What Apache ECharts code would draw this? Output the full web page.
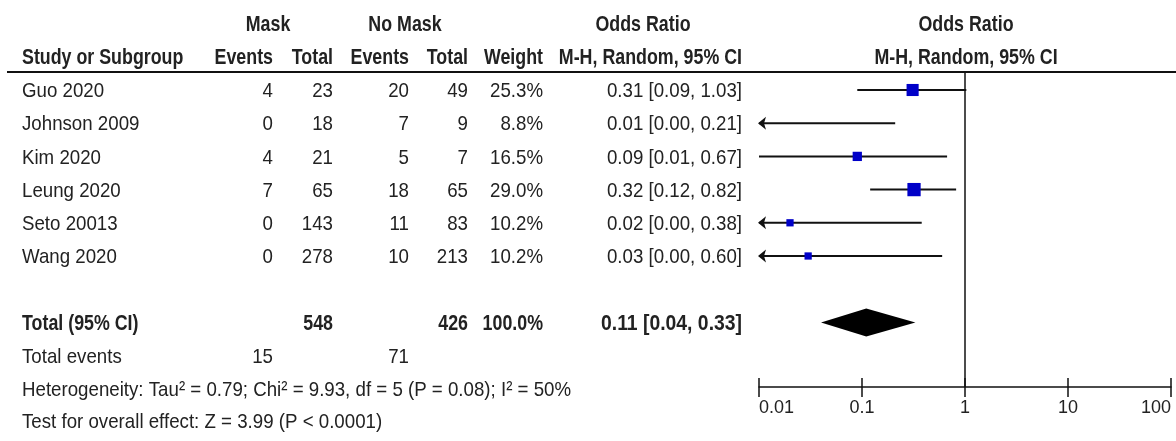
<!DOCTYPE html>
<html>
<head>
<meta charset="utf-8">
<script src="https://cdn.jsdelivr.net/npm/echarts@6/dist/echarts.min.js"></script>
<style>
  html, body { margin: 0; padding: 0; background: #fff; }
  #chart { width: 1176px; height: 441px; }
</style>
</head>
<body>
<div id="chart"></div>
<script>
// study level data
const studies = ['Guo 2020', 'Johnson 2009', 'Kim 2020', 'Leung 2020', 'Seto 20013', 'Wang 2020']
const maskEvents = [4, 0, 4, 7, 0, 0]
const maskTotal = [23, 18, 21, 65, 143, 278]
const noMaskEvents = [20, 7, 5, 18, 11, 10]
const noMaskTotal = [49, 9, 7, 65, 83, 213]
const weights = [25.3, 8.8, 16.5, 29.0, 10.2, 10.2]
const oddsRatio = [0.31, 0.01, 0.09, 0.32, 0.02, 0.03]
const ciLow = [0.09, 0.00, 0.01, 0.12, 0.00, 0.00]
const ciHigh = [1.03, 0.21, 0.67, 0.82, 0.38, 0.60]

// pooled
const totalTotals = [548, 426]
const totalWeight = 100.0
const pooled = [0.11, 0.04, 0.33] // or, low, high
const totalEvents = [15, 71]

const axisTicks = [0.01, 0.1, 1, 10, 100]
const heterogeneity = 'Heterogeneity: Tau² = 0.79; Chi² = 9.93, df = 5 (P = 0.08); I² = 50%'
const overallEffect = 'Test for overall effect: Z = 3.99 (P < 0.0001)'

// no narrow font installed, so arial-metric text gets squeezed a bit
const FONT = '"Liberation Sans", Arial, sans-serif'
const SQUEEZE_REG = 0.89
const SQUEEZE_BOLD = 0.81
const TXT = '#222'
const TOTAL_ROW = 7

const chart = echarts.init(document.getElementById('chart'))

function renderStudy (params, api) {
  const xMin = axisTicks[0]
  const xMax = axisTicks[axisTicks.length - 1]
  const or = api.value(0)
  const lo = api.value(1)
  const hi = api.value(2)
  const row = api.value(3)
  const w = api.value(4)
  const clipL = lo < xMin
  const clipR = hi > xMax
  const p1 = api.coord([clipL ? xMin : lo, row])
  const p2 = api.coord([clipR ? xMax : hi, row])
  const y = p1[1]
  const children = [{
    type: 'line',
    shape: {x1: p1[0], y1: y, x2: p2[0], y2: y},
    style: {stroke: '#111', lineWidth: 2}
  }]
  if (clipL) {
    const x = p1[0] - 1
    children.push({
      type: 'polygon',
      shape: {points: [[x, y], [x + 8, y - 6.5], [x + 6, y], [x + 8, y + 6.5]]},
      style: {fill: '#111'}
    })
  }
  if (or > xMin) {
    const c = api.coord([or, row])
    const s = 4 + 0.32 * w
    children.push({
      type: 'rect',
      shape: {x: c[0] - s / 2, y: y - s / 2, width: s, height: s},
      style: {fill: '#0000c8'}
    })
  }
  return {type: 'group', children: children}
}

function renderDiamond (params, api) {
  const row = api.value(3)
  const c = api.coord([api.value(0), row])
  const l = api.coord([api.value(1), row])
  const r = api.coord([api.value(2), row])
  const h = 14
  return {
    type: 'polygon',
    shape: {points: [[l[0], c[1]], [c[0], c[1] - h], [r[0], c[1]], [c[0], c[1] + h]]},
    style: {fill: '#000'}
  }
}

const studyData = studies.map((s, i) => [oddsRatio[i], ciLow[i], ciHigh[i], i, weights[i]])

const option = {
  animation: false,
  backgroundColor: '#fff',
  grid: {left: 759, right: 5, top: 73, bottom: 54},
  xAxis: [{
    type: 'log',
    logBase: 10,
    position: 'bottom',
    min: axisTicks[0],
    max: axisTicks[axisTicks.length - 1],
    axisLine: {onZero: false, lineStyle: {color: '#111', width: 1.5}},
    axisTick: {length: 10, lineStyle: {color: '#111', width: 1.5}},
    splitLine: {show: false},
    axisLabel: {
      color: TXT,
      fontFamily: FONT,
      fontSize: 18,
      margin: 12,
      alignMinLabel: 'left',
      alignMaxLabel: 'right',
      formatter: v => String(+v.toPrecision(2))
    }
  }, {
    // second copy of the axis only for the upward half of the ticks
    type: 'log',
    logBase: 10,
    position: 'bottom',
    min: axisTicks[0],
    max: axisTicks[axisTicks.length - 1],
    axisLine: {show: false, onZero: false},
    axisTick: {inside: true, length: 9, lineStyle: {color: '#111', width: 1.5}},
    axisLabel: {show: false},
    splitLine: {show: false}
  }],
  yAxis: {
    type: 'value',
    inverse: true,
    min: -0.512,
    max: 8.946,
    show: false
  },
  series: [{
    type: 'custom',
    renderItem: renderStudy,
    encode: {x: [0, 1, 2], y: 3},
    data: studyData,
    clip: false,
    markLine: {
      silent: true,
      symbol: 'none',
      label: {show: false},
      lineStyle: {color: '#111', width: 1.5, type: 'solid'},
      data: [{xAxis: 1}]
    }
  }, {
    type: 'custom',
    renderItem: renderDiamond,
    encode: {x: [0, 1, 2], y: 3},
    data: [[pooled[0], pooled[1], pooled[2], TOTAL_ROW]],
    clip: false
  }]
}
chart.setOption(option)

// table text, rows placed through the same y axis as the plot
function rowY (r) {
  return chart.convertToPixel({yAxisIndex: 0}, r) + 1.5
}
function txt (x, r, text, align, bold, squeeze) {
  return {
    type: 'text',
    x: x,
    y: rowY(r),
    scaleX: squeeze || (bold ? SQUEEZE_BOLD : SQUEEZE_REG),
    silent: true,
    style: {
      text: String(text),
      align: align,
      verticalAlign: 'middle',
      fill: TXT,
      font: (bold ? 'bold 22px ' : '21px ') + FONT
    }
  }
}
const col = {name: 22, mEv: 273, mTot: 333, nEv: 409, nTot: 468, wt: 543, orTxt: 742}
const fmtOR = (o, l, h) => o.toFixed(2) + ' [' + l.toFixed(2) + ', ' + h.toFixed(2) + ']'

const g = []
// headers
g.push(txt(268, -2, 'Mask', 'center', true))
g.push(txt(405, -2, 'No Mask', 'center', true))
g.push(txt(643, -2, 'Odds Ratio', 'center', true))
g.push(txt(966, -2, 'Odds Ratio', 'center', true))
g.push(txt(col.name, -1, 'Study or Subgroup', 'left', true))
g.push(txt(col.mEv, -1, 'Events', 'right', true))
g.push(txt(col.mTot, -1, 'Total', 'right', true))
g.push(txt(col.nEv, -1, 'Events', 'right', true))
g.push(txt(col.nTot, -1, 'Total', 'right', true))
g.push(txt(col.wt, -1, 'Weight', 'right', true))
g.push(txt(col.orTxt, -1, 'M-H, Random, 95% CI', 'right', true))
g.push(txt(966, -1, 'M-H, Random, 95% CI', 'center', true))
g.push({
  type: 'line',
  silent: true,
  shape: {x1: 7, y1: 72, x2: 1176, y2: 72},
  style: {stroke: '#111', lineWidth: 2}
})

studies.forEach((s, i) => {
  g.push(txt(col.name, i, s, 'left'))
  g.push(txt(col.mEv, i, maskEvents[i], 'right'))
  g.push(txt(col.mTot, i, maskTotal[i], 'right'))
  g.push(txt(col.nEv, i, noMaskEvents[i], 'right'))
  g.push(txt(col.nTot, i, noMaskTotal[i], 'right'))
  g.push(txt(col.wt, i, weights[i].toFixed(1) + '%', 'right'))
  g.push(txt(col.orTxt, i, fmtOR(oddsRatio[i], ciLow[i], ciHigh[i]), 'right'))
})

g.push(txt(col.name, TOTAL_ROW, 'Total (95% CI)', 'left', true))
g.push(txt(col.mTot, TOTAL_ROW, totalTotals[0], 'right', true))
g.push(txt(col.nTot, TOTAL_ROW, totalTotals[1], 'right', true))
g.push(txt(col.wt, TOTAL_ROW, totalWeight.toFixed(1) + '%', 'right', true))
g.push(txt(col.orTxt, TOTAL_ROW, fmtOR(pooled[0], pooled[1], pooled[2]), 'right', true, 0.88))

g.push(txt(col.name, TOTAL_ROW + 1, 'Total events', 'left'))
g.push(txt(col.mEv, TOTAL_ROW + 1, totalEvents[0], 'right'))
g.push(txt(col.nEv, TOTAL_ROW + 1, totalEvents[1], 'right'))
g.push(txt(col.name, TOTAL_ROW + 2, heterogeneity, 'left'))
g.push(txt(col.name, TOTAL_ROW + 2.95, overallEffect, 'left'))

chart.setOption({graphic: {elements: g}})
</script>
</body>
</html>
